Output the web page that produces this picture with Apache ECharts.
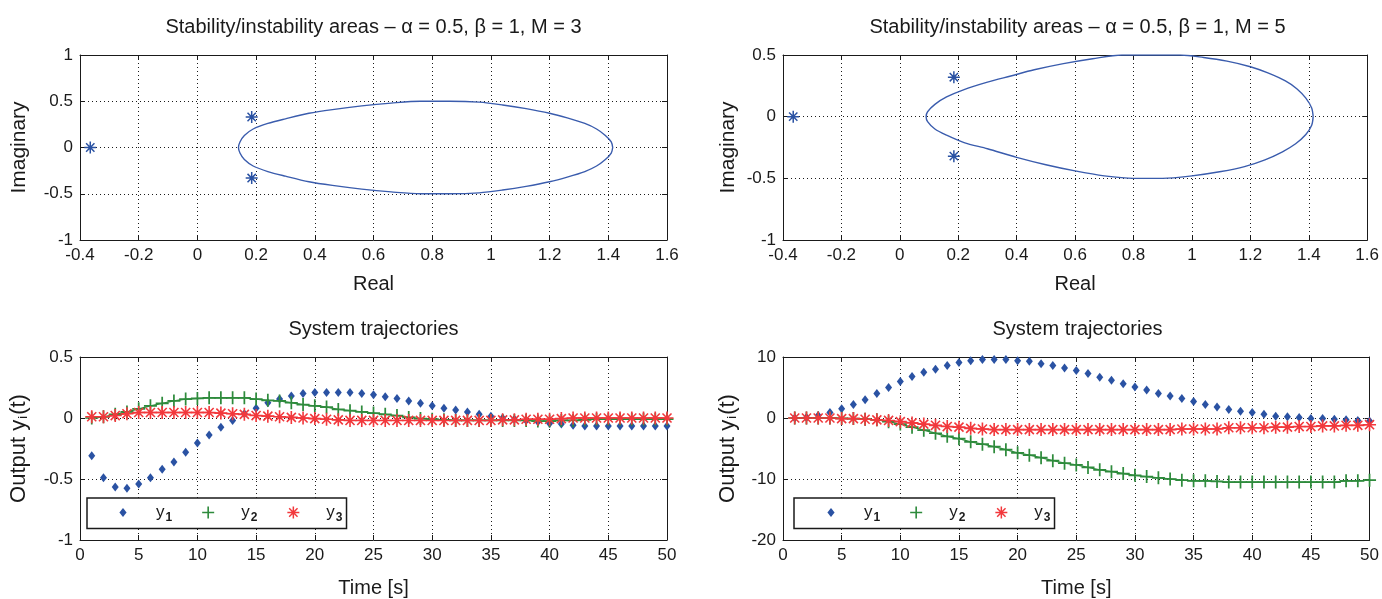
<!DOCTYPE html>
<html>
<head>
<meta charset="utf-8">
<script src="https://cdn.jsdelivr.net/npm/echarts@6/dist/echarts.min.js"></script>
<style>
  html, body { margin: 0; padding: 0; background: #fff; }
  #chart { width: 1382px; height: 599px; }
</style>
</head>
<body>
<div id="chart"></div>
<script>
// ---- Stability boundary in the complex plane (Re, Im) ----
const boundaryM3 = [
  [1.415, 0], [1.41, 0.06], [1.39, 0.13], [1.36, 0.2], [1.32, 0.26], [1.26, 0.32],
  [1.2, 0.37], [1.12, 0.42], [1.04, 0.46], [0.96, 0.49], [0.86, 0.5], [0.76, 0.5],
  [0.66, 0.48], [0.56, 0.45], [0.46, 0.41], [0.38, 0.37], [0.3, 0.31], [0.24, 0.26],
  [0.19, 0.2], [0.16, 0.13], [0.145, 0.06], [0.14, 0],
  [0.145, -0.06], [0.16, -0.13], [0.19, -0.2], [0.24, -0.26], [0.3, -0.31], [0.38, -0.37],
  [0.46, -0.41], [0.56, -0.45], [0.66, -0.48], [0.76, -0.5], [0.86, -0.5], [0.96, -0.49],
  [1.04, -0.46], [1.12, -0.42], [1.2, -0.37], [1.26, -0.32], [1.32, -0.26], [1.36, -0.2],
  [1.39, -0.13], [1.41, -0.06], [1.415, 0]
];
const boundaryM5 = [
  [1.415, 0], [1.41, 0.07], [1.39, 0.15], [1.36, 0.225], [1.32, 0.29], [1.26, 0.355],
  [1.2, 0.405], [1.12, 0.45], [1.04, 0.48], [0.96, 0.5], [0.86, 0.5], [0.76, 0.5],
  [0.66, 0.47], [0.56, 0.43], [0.46, 0.38], [0.38, 0.33], [0.3, 0.28], [0.22, 0.22],
  [0.16, 0.16], [0.12, 0.1], [0.095, 0.04], [0.09, 0],
  [0.095, -0.04], [0.12, -0.1], [0.16, -0.15], [0.22, -0.21], [0.3, -0.26], [0.4, -0.33],
  [0.5, -0.39], [0.6, -0.44], [0.7, -0.48], [0.8, -0.5], [0.9, -0.5], [1.0, -0.48],
  [1.1, -0.445], [1.18, -0.405], [1.25, -0.35], [1.31, -0.285], [1.355, -0.22], [1.39, -0.145],
  [1.41, -0.07], [1.415, 0]
];
// ---- Closed-loop poles ----
const polesM3 = [[-0.365, 0], [0.185, 0.33], [0.185, -0.33]];
const polesM5 = [[-0.365, 0], [0.185, 0.32], [0.185, -0.32]];

// ---- Time axis ----
const timeSteps = [1, 2, 3, 4, 5, 6, 7, 8, 9, 10, 11, 12, 13, 14, 15, 16, 17, 18, 19, 20,
  21, 22, 23, 24, 25, 26, 27, 28, 29, 30, 31, 32, 33, 34, 35, 36, 37, 38, 39, 40,
  41, 42, 43, 44, 45, 46, 47, 48, 49, 50];

// ---- System outputs, M = 3 ----
const y1M3 = [-0.31, -0.49, -0.565, -0.575, -0.54, -0.49, -0.42, -0.36, -0.28, -0.205,
  -0.14, -0.075, -0.02, 0.035, 0.08, 0.125, 0.155, 0.18, 0.2, 0.21,
  0.21, 0.21, 0.21, 0.2, 0.19, 0.175, 0.16, 0.14, 0.12, 0.1,
  0.08, 0.065, 0.05, 0.03, 0.015, 0, -0.01, -0.02, -0.03, -0.045,
  -0.05, -0.06, -0.065, -0.065, -0.065, -0.065, -0.065, -0.065, -0.065, -0.065];
const y2M3 = [0, 0.01, 0.03, 0.05, 0.075, 0.1, 0.12, 0.14, 0.155, 0.16,
  0.165, 0.165, 0.165, 0.165, 0.155, 0.145, 0.14, 0.125, 0.11, 0.1,
  0.09, 0.07, 0.06, 0.05, 0.04, 0.03, 0.02, 0.005, -0.005, -0.01,
  -0.015, -0.02, -0.02, -0.02, -0.02, -0.02, -0.02, -0.02, -0.025, -0.025,
  -0.02, -0.02, -0.015, -0.01, -0.01, -0.01, -0.01, -0.01, -0.01, -0.01];
const y3M3 = [0.01, 0.01, 0.02, 0.035, 0.045, 0.045, 0.045, 0.045, 0.045, 0.045,
  0.045, 0.04, 0.035, 0.03, 0.02, 0.015, 0.01, 0.005, 0, -0.005,
  -0.01, -0.015, -0.02, -0.02, -0.02, -0.02, -0.02, -0.02, -0.02, -0.02,
  -0.02, -0.02, -0.02, -0.02, -0.02, -0.015, -0.015, -0.01, -0.01, -0.01,
  -0.005, 0, 0, 0, 0, 0, 0, 0, 0, 0];

// ---- System outputs, M = 5 ----
const y1M5 = [0, 0.1, 0.4, 0.9, 1.5, 2.2, 3.0, 4.0, 5.0, 6.0,
  6.8, 7.5, 8.0, 8.6, 9.1, 9.4, 9.6, 9.6, 9.6, 9.4,
  9.3, 8.9, 8.6, 8.2, 7.8, 7.3, 6.7, 6.2, 5.6, 5.1,
  4.6, 4.0, 3.6, 3.2, 2.7, 2.2, 1.8, 1.4, 1.1, 0.9,
  0.6, 0.3, 0.2, 0.1, -0.1, -0.1, -0.2, -0.3, -0.4, -0.5];
const y2M5 = [0, 0, 0, 0, -0.05, -0.1, -0.2, -0.3, -0.6, -1.0,
  -1.5, -2.0, -2.5, -3.0, -3.4, -3.9, -4.3, -4.7, -5.2, -5.7,
  -6.1, -6.5, -7.0, -7.4, -7.7, -8.1, -8.5, -8.8, -9.1, -9.4,
  -9.6, -9.8, -10.0, -10.2, -10.3, -10.3, -10.4, -10.5, -10.5, -10.5,
  -10.5, -10.5, -10.5, -10.5, -10.5, -10.5, -10.5, -10.3, -10.3, -10.2];
const y3M5 = [0, 0, 0, 0, -0.1, -0.1, -0.2, -0.3, -0.4, -0.6,
  -0.8, -1.0, -1.2, -1.4, -1.5, -1.7, -1.8, -1.9, -1.9, -1.9,
  -1.9, -1.9, -1.9, -1.9, -1.9, -1.9, -1.9, -1.9, -1.9, -1.9,
  -1.9, -1.9, -1.9, -1.8, -1.8, -1.8, -1.8, -1.6, -1.6, -1.6,
  -1.6, -1.5, -1.5, -1.4, -1.4, -1.3, -1.3, -1.2, -1.2, -1.1];

// ---- Titles and series names ----
const plotTitles = [
  'Stability/instability areas – α = 0.5, β = 1, M = 3',
  'Stability/instability areas – α = 0.5, β = 1, M = 5',
  'System trajectories',
  'System trajectories'
];
const seriesNames = ['y1', 'y2', 'y3'];

// ---- Styling ----
const TICK_FONT = "'Liberation Sans Narrow', 'Liberation Sans', Arial, sans-serif";
const TEXT_FONT = "'Liberation Sans', Arial, sans-serif";
const INK = '#1a1a1a';
const BLUE = '#2a52a3';
const CURVE = '#3a5cad';
const GREEN = '#2e8b3c';
const RED = '#f2383c';

// marker shapes drawn as filled paths
const PLUS = 'path://M5.2,0h1.6v5.2h5.2v1.6h-5.2v5.2h-1.6v-5.2h-5.2v-1.6h5.2z';
const STAR = 'path://M0,5.25H12V6.75H0Z M5.25,0H6.75V12H5.25Z M1.3,2.35L2.35,1.3L10.7,9.65L9.65,10.7Z M9.65,1.3L10.7,2.35L2.35,10.7L1.3,9.65Z';
const DIAMOND_ICON = 'path://M0,0 M12,12 M6,1.5L9.6,6L6,10.5L2.4,6Z';

const grids = [
  { left: 80, top: 55, width: 587, height: 185 },
  { left: 783, top: 55, width: 589, height: 185 },
  { left: 80, top: 357, width: 587, height: 183 },
  { left: 783, top: 357, width: 589, height: 183 }
];

function mainX(g, min, max, interval, name, nameGap) {
  return {
    type: 'value', gridIndex: g, position: 'bottom', min, max, interval,
    axisLine: { onZero: false, lineStyle: { color: INK, width: 1 } },
    axisTick: { inside: true, length: 5, lineStyle: { color: INK } },
    axisLabel: { margin: 7, color: INK, fontFamily: TICK_FONT, fontSize: 17, showMinLabel: true, showMaxLabel: true },
    splitLine: { show: true, lineStyle: { color: INK, type: [1, 3], width: 1 } },
    name, nameLocation: 'middle', nameGap,
    nameTextStyle: { fontFamily: TEXT_FONT, fontSize: 20, color: INK }
  };
}
function mirrorX(g, min, max, interval) {
  return {
    type: 'value', gridIndex: g, position: 'top', min, max, interval,
    axisLine: { onZero: false, lineStyle: { color: INK, width: 1 } },
    axisTick: { inside: true, length: 5, lineStyle: { color: INK } },
    axisLabel: { show: false }, splitLine: { show: false }
  };
}
function mainY(g, min, max, interval, name, nameGap, size) {
  return {
    type: 'value', gridIndex: g, position: 'left', min, max, interval,
    axisLine: { onZero: false, lineStyle: { color: INK, width: 1 } },
    axisTick: { inside: true, length: 5, lineStyle: { color: INK } },
    axisLabel: { margin: 7, color: INK, fontFamily: TICK_FONT, fontSize: 17, showMinLabel: true, showMaxLabel: true },
    splitLine: { show: true, lineStyle: { color: INK, type: [1, 3], width: 1 } },
    name, nameLocation: 'middle', nameGap,
    nameTextStyle: { fontFamily: TEXT_FONT, fontSize: size, color: INK, rich: {
      s: { fontFamily: TEXT_FONT, fontSize: 13, color: INK, padding: [10, 1, 0, 1] }
    } }
  };
}
function mirrorY(g, min, max, interval) {
  return {
    type: 'value', gridIndex: g, position: 'right', min, max, interval,
    axisLine: { onZero: false, lineStyle: { color: INK, width: 1 } },
    axisTick: { inside: true, length: 5, lineStyle: { color: INK } },
    axisLabel: { show: false }, splitLine: { show: false }
  };
}

const xAxis = [
  mainX(0, -0.4, 1.6, 0.2, 'Real', 34), mirrorX(0, -0.4, 1.6, 0.2),
  mainX(1, -0.4, 1.6, 0.2, 'Real', 34), mirrorX(1, -0.4, 1.6, 0.2),
  mainX(2, 0, 50, 5, 'Time [s]', 38), mirrorX(2, 0, 50, 5),
  mainX(3, 0, 50, 5, 'Time [s]', 38), mirrorX(3, 0, 50, 5)
];
const yAxis = [
  mainY(0, -1, 1, 0.5, 'Imaginary', 50, 21), mirrorY(0, -1, 1, 0.5),
  mainY(1, -1, 0.5, 0.5, 'Imaginary', 44, 21), mirrorY(1, -1, 0.5, 0.5),
  mainY(2, -1, 0.5, 0.5, 'Output y{s|i}(t)', 50, 22), mirrorY(2, -1, 0.5, 0.5),
  mainY(3, -20, 10, 10, 'Output y{s|i}(t)', 44, 22), mirrorY(3, -20, 10, 10)
];

function pairs(values) {
  return timeSteps.map((t, i) => [t, values[i]]);
}

function boundarySeries(g, data) {
  return {
    type: 'line', xAxisIndex: 2 * g, yAxisIndex: 2 * g, data, smooth: 0.3,
    showSymbol: false, silent: true,
    lineStyle: { color: CURVE, width: 1.4 }
  };
}
function poleSeries(g, data) {
  return {
    type: 'scatter', xAxisIndex: 2 * g, yAxisIndex: 2 * g, data, silent: true,
    symbol: STAR, symbolSize: 12, itemStyle: { color: BLUE, opacity: 1 }
  };
}
function outputSeries(g, y1, y2, y3) {
  return [
    { name: seriesNames[0], type: 'scatter', xAxisIndex: 2 * g, yAxisIndex: 2 * g,
      data: pairs(y1), symbol: 'diamond', symbolSize: [7, 9], silent: true,
      itemStyle: { color: BLUE, opacity: 1 } },
    { name: seriesNames[1], type: 'line', xAxisIndex: 2 * g, yAxisIndex: 2 * g,
      data: pairs(y2), symbol: PLUS, symbolSize: 13, showAllSymbol: true, silent: true,
      lineStyle: { color: GREEN, width: 1.3 }, itemStyle: { color: GREEN } },
    { name: seriesNames[2], type: 'line', xAxisIndex: 2 * g, yAxisIndex: 2 * g,
      data: pairs(y3), symbol: STAR, symbolSize: 13, showAllSymbol: true, silent: true,
      lineStyle: { color: RED, width: 1.3 }, itemStyle: { color: RED } }
  ];
}

function legendFor(left, padLeft) {
  return {
    left, top: 498, orient: 'horizontal', selectedMode: false,
    backgroundColor: '#fff', borderColor: INK, borderWidth: 1.5,
    padding: [6, 4, 5, padLeft], itemWidth: 12, itemHeight: 12, itemGap: 30,
    data: [
      { name: seriesNames[0], icon: DIAMOND_ICON, itemStyle: { color: BLUE } },
      { name: seriesNames[1], icon: PLUS, itemStyle: { color: GREEN } },
      { name: seriesNames[2], icon: STAR, itemStyle: { color: RED } }
    ],
    formatter: n => '{g| }y{s|' + n.slice(1) + '}',
    textStyle: {
      fontFamily: TICK_FONT, fontSize: 17, color: INK,
      rich: {
        g: { width: 22 },
        s: { fontFamily: TICK_FONT, fontSize: 12, fontWeight: 'bold', color: INK, padding: [10, 0, 0, 1] }
      }
    }
  };
}

const titleGraphics = grids.map((g, i) => ({
  type: 'text',
  x: g.left + g.width / 2,
  y: i < 2 ? 27 : 329,
  style: {
    text: plotTitles[i], fill: INK, font: '20px ' + TEXT_FONT,
    align: 'center', verticalAlign: 'middle'
  }
}));

const chart = echarts.init(document.getElementById('chart'), null, { renderer: 'canvas' });
chart.setOption({
  animation: false,
  backgroundColor: '#fff',
  grid: grids,
  xAxis, yAxis,
  graphic: titleGraphics,
  legend: [legendFor(87, 30), legendFor(794, 31)],
  series: [
    boundarySeries(0, boundaryM3), poleSeries(0, polesM3),
    boundarySeries(1, boundaryM5), poleSeries(1, polesM5),
    ...outputSeries(2, y1M3, y2M3, y3M3),
    ...outputSeries(3, y1M5, y2M5, y3M5)
  ]
});
</script>
</body>
</html>
